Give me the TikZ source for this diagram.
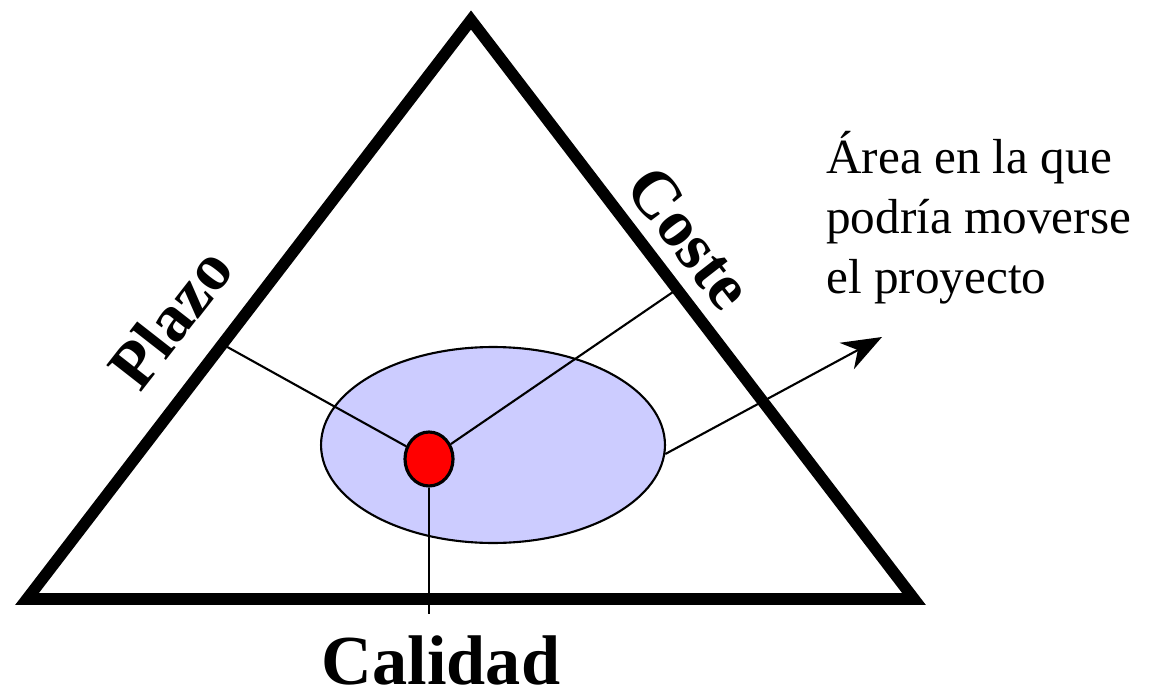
\documentclass[tikz,border=0pt]{standalone}
\usepackage{fontspec}
\setmainfont{Liberation Serif}
\usetikzlibrary{shapes.geometric,arrows.meta,calc}
\definecolor{zone}{HTML}{CCCCFF}
\definecolor{spot}{HTML}{FF0000}
\tikzset{
  side/.style={draw=black,line width=6.6pt,line join=miter},
  link/.style={draw=black,line width=1.2pt},
  area/.style={ellipse,draw=black,line width=1.2pt,fill=zone,
    minimum width=6.88cm,minimum height=3.92cm},
  spotdot/.style={ellipse,draw=black,line width=1.8pt,fill=spot,inner sep=0pt,
    minimum width=0.96cm,minimum height=1.08cm},
  axis/.style={font=\bfseries\fontsize{38}{40}\selectfont,inner sep=0pt},
  note/.style={align=left,font=\fontsize{28}{34}\selectfont,inner sep=0pt},
}

\begin{document}
\begin{tikzpicture}[x=0.02cm,y=-0.02cm]
  \useasboundingbox (0,0) rectangle (1151,692);
  \coordinate (bl) at (27,599);
  \coordinate (top) at (471,20);
  \coordinate (br) at (914,599);
  % project area and the point inside it
  \node[area] (zona) at (493,445) {};
  \node[spotdot] (punto) at (429,459) {};
  \coordinate (pl) at ($(bl)!0.44!(top)$);
  \coordinate (pc) at ($(br)!0.535!(top)$);
  \coordinate (pq) at (429,614);
  \coordinate (tip) at (882,337);
  \draw[link] (punto) -- (pl);
  \draw[link] (punto) -- (pc);
  \draw[link] (punto) -- (pq);
  \draw[link,-{Stealth[length=8mm,width=6mm,inset=2.5mm]}] (zona.-3) -- (tip);
  % the triangle
  \draw[side] (bl) -- (top) -- (br) -- cycle;
  \node[axis,rotate=52] (plazo) at (170,318) {Plazo};
  \node[axis,rotate=-52] (coste) at (690,238) {Coste};
  \node[axis,font=\bfseries\fontsize{40}{42}\selectfont,anchor=base] (calidad) at (441,684) {Calidad};
  \node[note,anchor=north west] (nota) at (826,131) {Área en la que\\podría moverse\\el proyecto};
\end{tikzpicture}
\end{document}
